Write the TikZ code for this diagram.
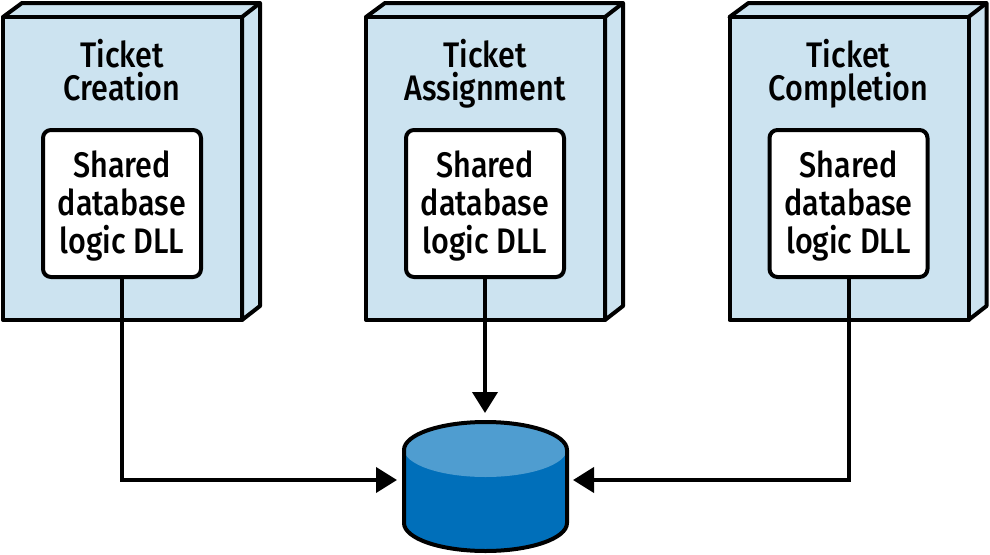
\documentclass[tikz,border=0pt]{standalone}
\usepackage{fontspec}
\setmainfont[FakeStretch=0.86]{Fira Sans Medium}
\usetikzlibrary{arrows.meta}
\definecolor{panelblue}{HTML}{CCE3F0}
\definecolor{dbtop}{HTML}{4F9DD0}
\definecolor{dbside}{HTML}{006FBA}
\tikzset{
  x=1pt,y=-1pt,
  outline/.style={draw=black,line width=4pt,line join=round},
  panel/.style={outline,fill=panelblue},
  dllbox/.style={outline,fill=white,rounded corners=8pt,minimum width=158pt,minimum height=147pt,inner sep=0pt,align=center,font=\fontsize{35.5}{38}\selectfont},
  titlelabel/.style={align=center,inner sep=0pt,font=\fontsize{35.5}{33}\selectfont},
  link/.style={line width=4pt,-{Triangle[length=21pt,width=25pt]}},
}
\newcommand{\appbox}[5]{%
  \begin{scope}[xshift=#1pt]
    \path[panel] (22,3) -- (260,3) -- (260,306) -- (242,320) -- (242,17) -- (3,17) -- cycle;
    \path[panel] (3,17) rectangle (242,320);
    \draw[outline] (242,17) -- (260,3);
    \node[titlelabel] (#2) at (122,74) {Ticket\\#4\vphantom{p}};
    \node[dllbox] (#3) at (122,203.5) {\rule{0pt}{31pt}Shared\\database\\logic DLL};
  \end{scope}}
\begin{document}
\begin{tikzpicture}
\useasboundingbox (0,0) rectangle (990,554);
\appbox{0}{ta}{a}{Creation}{}
\appbox{363}{tb}{b}{Assignment}{}
\appbox{726.5}{tc}{c}{Completion}{}
% cylinder
\path[fill=dbside] (404,450) arc[start angle=180,end angle=360,x radius=81.5,y radius=28] -- (567,523) arc[start angle=0,end angle=180,x radius=81.5,y radius=28] -- cycle;
\path[fill=dbtop] (485.5,449) ellipse[x radius=81.5,y radius=28];
\draw[outline] (404,450) arc[start angle=180,end angle=360,x radius=81.5,y radius=28] -- (567,523) arc[start angle=0,end angle=180,x radius=81.5,y radius=28] -- cycle;
\node[minimum width=176pt,minimum height=134pt,inner sep=0pt,outer sep=0pt] (db) at (485,480) {};
% connectors
\draw[link] (a.south) |- (db.west);
\draw[link] (b.south) -- (db.north);
\draw[link] (c.south) |- (db.east);
\end{tikzpicture}
\end{document}
